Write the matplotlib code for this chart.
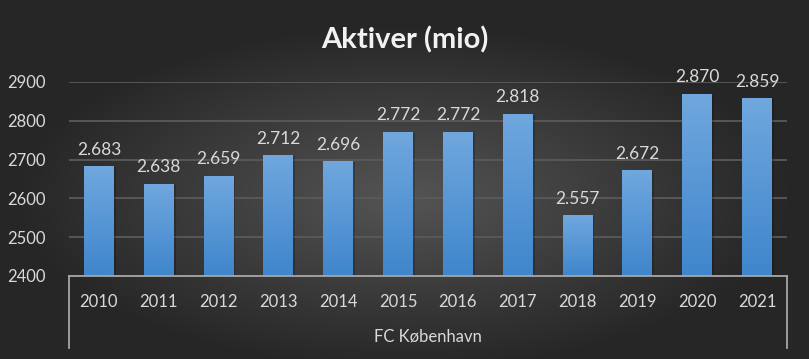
import numpy as np
import matplotlib.pyplot as plt

years = ['2010', '2011', '2012', '2013', '2014', '2015',
         '2016', '2017', '2018', '2019', '2020', '2021']
aktiver = [2683, 2638, 2659, 2712, 2696, 2772, 2772, 2818, 2557, 2672, 2870, 2859]
yticks = [2400, 2500, 2600, 2700, 2800, 2900]
group_label = 'FC København'
title = 'Aktiver (mio)'

plt.rcParams['font.family'] = ['Lato', 'DejaVu Sans']
txt = '#d9d9d9'
base = yticks[0]

fig = plt.figure(figsize=(8.09, 3.59), dpi=100)

# radial background
bg = fig.add_axes([0, 0, 1, 1])
yy, xx = np.mgrid[0:1:200j, 0:1:400j]
r = np.sqrt(((xx - 0.5) / 0.75) ** 2 + ((yy - 0.45) / 0.75) ** 2)
shade = np.clip(0.33 - 0.28 * r, 0.15, 0.33)
bg.imshow(np.dstack([shade] * 3), extent=[0, 1, 0, 1], aspect='auto', origin='lower')
bg.axis('off')

ax = fig.add_axes([0.0853, 0.2312, 0.8875, 0.5404])
ax.patch.set_alpha(0)
x = np.arange(len(years))
heights = [v - base for v in aktiver]
bars = ax.bar(x, heights, bottom=base, width=0.5, color='#4a90d9', zorder=3)

grad = np.linspace(0, 1, 100).reshape(-1, 1)
top_c = np.array([0x70, 0xa7, 0xde]) / 255
bot_c = np.array([0x3f, 0x86, 0xcc]) / 255
img = top_c * (1 - grad[..., None]) + bot_c * grad[..., None]
for b, v in zip(bars, aktiver):
    x0, w = b.get_x(), b.get_width()
    # soft shadow
    ax.bar(x0 + w / 2 + 0.03, v - base - 3, width=w, bottom=base, color='black',
           alpha=0.2, zorder=2)
    im = ax.imshow(img, extent=[x0, x0 + w, base, v], aspect='auto', zorder=4)
    im.set_clip_path(b)

ax.set_xlim(-0.5, len(years) - 0.5)
ax.set_ylim(2400, 2900)
ax.set_yticks(yticks)
ax.set_yticklabels([str(t) for t in yticks])
ax.tick_params(axis='y', length=0, pad=17, labelsize=12, colors=txt)
ax.set_xticks(x)
ax.set_xticklabels(years)
ax.tick_params(axis='x', length=0, pad=13, labelsize=12, colors=txt)
ax.yaxis.grid(True, color='#5a5a5a', lw=1.3, zorder=0)
for s in ax.spines.values():
    s.set_visible(False)

for xi, v in zip(x, aktiver):
    ax.annotate(f'{v:,}'.replace(',', '.'), (xi, v), xytext=(0, 6),
                textcoords='offset points', ha='center', va='bottom',
                fontsize=12.5, color=txt, zorder=5)

# category bracket
lc = '#a6a6a6'
ax.plot([0, 1], [0, 0], transform=ax.transAxes, color=lc, lw=1.3, clip_on=False, zorder=6)
ax.plot([0, 0], [0, -0.371], transform=ax.transAxes, color=lc, lw=1.3, clip_on=False)
ax.plot([1, 1], [0, -0.371], transform=ax.transAxes, color=lc, lw=1.3, clip_on=False)
ax.text(0.5, -0.31, group_label, transform=ax.transAxes, ha='center', va='center',
        fontsize=12, color=txt)

fig.text(0.5, 1 - 40 / 359, title, ha='center', va='center', fontsize=21,
         fontweight='bold', color='#f2f2f2')

fig.savefig('out.png', dpi=100)
